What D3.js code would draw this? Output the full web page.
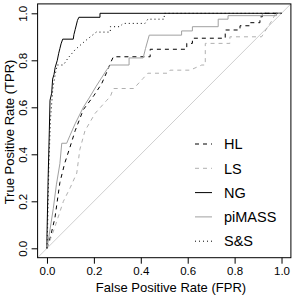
<!DOCTYPE html>
<html>
<head>
<meta charset="utf-8">
<script src="https://cdn.jsdelivr.net/npm/d3@7"></script>
<style>
  body { margin: 0; padding: 0; background: #fff; }
  text { font-family: "Liberation Sans", Arial, sans-serif; fill: #000; }
</style>
</head>
<body>
<div id="chart"></div>
<script>
// ROC curves (FPR, TPR)
const methods = ['HL', 'LS', 'NG', 'piMASS', 'S&S'];

const hlFpr = [0, 0.015, 0.034, 0.055, 0.075, 0.098, 0.12, 0.155, 0.2, 0.233, 0.255, 0.27, 0.283, 0.44, 0.44, 0.596, 0.596, 0.62, 0.62, 0.76, 0.76, 0.823, 0.823, 0.866, 0.866, 0.908, 0.908, 0.918, 0.918, 1];
const hlTpr = [0, 0.05, 0.13, 0.28, 0.36, 0.43, 0.5, 0.59, 0.65, 0.70, 0.75, 0.787, 0.815, 0.815, 0.847, 0.847, 0.872, 0.872, 0.894, 0.894, 0.929, 0.929, 0.947, 0.947, 0.96, 0.96, 0.985, 0.985, 1, 1];

const lsFpr = [0, 0.03, 0.07, 0.1, 0.127, 0.14, 0.162, 0.205, 0.255, 0.27, 0.283, 0.37, 0.41, 0.43, 0.517, 0.525, 0.61, 0.66, 0.675, 0.675, 0.78, 0.78, 0.915, 0.94, 0.96, 0.975, 1];
const lsTpr = [0, 0.08, 0.2, 0.26, 0.32, 0.42, 0.5, 0.574, 0.63, 0.645, 0.68, 0.68, 0.723, 0.745, 0.745, 0.758, 0.758, 0.78, 0.78, 0.872, 0.872, 0.90, 0.90, 0.94, 0.97, 1, 1];

const ngFpr = [0, 0, 0.005, 0.01, 0.013, 0.02, 0.024, 0.03, 0.035, 0.044, 0.05, 0.055, 0.06, 0.067, 0.112, 0.115, 0.12, 0.125, 0.13, 0.136, 0.226, 0.226, 1];
const ngTpr = [0, 0.05, 0.3, 0.5, 0.63, 0.66, 0.72, 0.74, 0.77, 0.8, 0.83, 0.85, 0.87, 0.89, 0.89, 0.91, 0.93, 0.95, 0.97, 0.983, 0.983, 1, 1];

const piFpr = [0, 0.01, 0.027, 0.04, 0.055, 0.063, 0.084, 0.098, 0.12, 0.155, 0.18, 0.21, 0.255, 0.27, 0.35, 0.35, 0.41, 0.42, 0.436, 0.574, 0.574, 0.62, 0.62, 0.73, 0.73, 0.772, 0.772, 0.979, 0.979, 1];
const piTpr = [0, 0.06, 0.17, 0.27, 0.36, 0.447, 0.447, 0.48, 0.53, 0.60, 0.64, 0.69, 0.76, 0.78, 0.78, 0.81, 0.81, 0.85, 0.907, 0.907, 0.925, 0.925, 0.943, 0.943, 0.975, 0.975, 0.99, 0.99, 1, 1];

const ssFpr = [0, 0.003, 0.008, 0.015, 0.025, 0.035, 0.044, 0.07, 0.09, 0.12, 0.16, 0.21, 0.27, 0.27, 0.31, 0.325, 0.418, 0.43, 0.5, 0.5, 1];
const ssTpr = [0, 0.1, 0.35, 0.55, 0.68, 0.74, 0.78, 0.78, 0.81, 0.845, 0.88, 0.92, 0.92, 0.943, 0.943, 0.957, 0.957, 0.975, 0.975, 1, 1];

const tickValues = [0, 0.2, 0.4, 0.6, 0.8, 1.0];

const fprs = [hlFpr, lsFpr, ngFpr, piFpr, ssFpr];
const tprs = [hlTpr, lsTpr, ngTpr, piTpr, ssTpr];
const colors = ['#000', '#b0b0b0', '#000', '#a0a0a0', '#000'];
const dashes = ['4,4', '4,4', null, null, '1,3'];

const width = 294, height = 299;
const svg = d3.select('#chart').append('svg').attr('width', width).attr('height', height);

const x = d3.scaleLinear().domain([-0.04, 1.04]).range([37.6, 290.9]);
const y = d3.scaleLinear().domain([-0.04, 1.04]).range([257.7, 3.9]);

svg.append('clipPath').attr('id', 'clip').append('rect')
    .attr('x', x(-0.04)).attr('y', y(1.04))
    .attr('width', x(1.04) - x(-0.04)).attr('height', y(-0.04) - y(1.04));

// diagonal reference line (abline 0,1)
svg.append('line')
    .attr('clip-path', 'url(#clip)')
    .attr('x1', x(-0.04)).attr('y1', y(-0.04))
    .attr('x2', x(1.04)).attr('y2', y(1.04))
    .attr('stroke', '#cfcfcf').attr('stroke-width', 1);

const line = d3.line().x(d => x(d[0])).y(d => y(d[1]));

methods.forEach((m, i) => {
    const pts = fprs[i].map((f, j) => [f, tprs[i][j]]);
    svg.append('path')
        .datum(pts)
        .attr('d', line)
        .attr('fill', 'none')
        .attr('stroke', colors[i])
        .attr('stroke-width', 1)
        .attr('stroke-dasharray', dashes[i]);
});

// axes
const xAxis = svg.append('g').attr('transform', 'translate(0,' + y(-0.04) + ')')
    .call(d3.axisBottom(x).tickValues(tickValues).tickSize(6).tickPadding(3).tickFormat(d3.format('.1f')));
const yAxis = svg.append('g').attr('transform', 'translate(' + x(-0.04) + ',0)')
    .call(d3.axisLeft(y).tickValues(tickValues).tickSize(6).tickFormat(d3.format('.1f')));

[xAxis, yAxis].forEach(g => {
    g.select('.domain').remove();
    g.selectAll('line').attr('stroke', '#000');
    g.selectAll('text').style('font-size', '11.5px').attr('fill', '#000');
});
xAxis.selectAll('text').attr('y', 9).attr('dy', '0.71em');
yAxis.selectAll('text')
    .attr('x', null).attr('dy', null)
    .attr('text-anchor', 'middle')
    .attr('transform', 'translate(-10.5,0) rotate(-90)')
    .attr('y', 0);

// box
svg.append('rect')
    .attr('x', x(-0.04)).attr('y', y(1.04))
    .attr('width', x(1.04) - x(-0.04)).attr('height', y(-0.04) - y(1.04))
    .attr('fill', 'none').attr('stroke', '#000').attr('stroke-width', 1);

svg.append('text')
    .attr('x', 171).attr('y', 291.5)
    .attr('text-anchor', 'middle')
    .style('font-size', '13px')
    .text('False Positive Rate (FPR)');

svg.append('text')
    .attr('transform', 'translate(13.5,132) rotate(-90)')
    .attr('text-anchor', 'middle')
    .style('font-size', '13px')
    .text('True Positive Rate (TPR)');

// legend
const legend = svg.append('g');
methods.forEach((m, i) => {
    const ly = 144 + i * 24.3;
    legend.append('line')
        .attr('x1', 195).attr('x2', 212).attr('y1', ly).attr('y2', ly)
        .attr('stroke', colors[i]).attr('stroke-width', 1)
        .attr('stroke-dasharray', dashes[i]);
    legend.append('text')
        .attr('x', 224).attr('y', ly).attr('dy', '0.36em')
        .style('font-size', '14.5px')
        .text(m);
});
</script>
</body>
</html>
